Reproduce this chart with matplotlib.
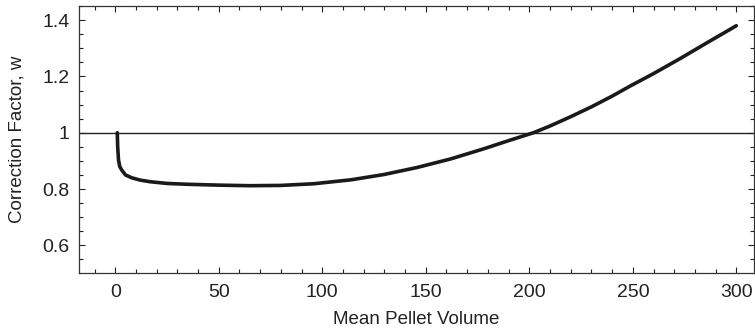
import matplotlib
matplotlib.use("Agg")
import matplotlib.pyplot as plt
from matplotlib.ticker import MultipleLocator

plt.rcParams['font.family'] = ['Liberation Sans', 'DejaVu Sans']

volume = [1, 1.2, 1.6, 2.2, 3.2, 5, 8, 12, 17, 25, 35, 50, 65, 80, 96, 114,
          130, 146, 162, 178, 190, 202, 210, 220, 230, 240, 249, 260, 273,
          285, 300]
factor = [1.0, 0.95, 0.903, 0.88, 0.867, 0.85, 0.84, 0.832, 0.826, 0.82, 0.817,
          0.814, 0.812, 0.813, 0.819, 0.833, 0.852, 0.877, 0.907, 0.943,
          0.972, 1.0, 1.024, 1.057, 1.092, 1.13, 1.167, 1.21, 1.264, 1.316,
          1.38]
ref_level = 1.0
xticks = [0, 50, 100, 150, 200, 250, 300]
yticks = [0.6, 0.8, 1.0, 1.2, 1.4]
ytick_labels = ['0.6', '0.8', '1', '1.2', '1.4']

fig = plt.figure(figsize=(7.55, 3.34), dpi=100)
ax = fig.add_axes([0.1046, 0.1826, 0.894, 0.7994])

ax.axhline(ref_level, color='#222222', lw=1.0, zorder=1)
ax.plot(volume, factor, color='#1a1a1a', lw=2.6, solid_capstyle='round', zorder=2)

ax.set_xlim(-17.5, 308.5)
ax.set_ylim(0.502, 1.45)
ax.set_xticks(xticks)
ax.set_yticks(yticks)
ax.set_yticklabels(ytick_labels)
ax.xaxis.set_minor_locator(MultipleLocator(10))
ax.yaxis.set_minor_locator(MultipleLocator(0.05))

ax.tick_params(which='both', direction='in', top=True, right=True,
               colors='#222222', labelsize=14)
ax.tick_params(which='major', length=4.5, width=0.8)
ax.tick_params(which='minor', length=3, width=0.8)
ax.tick_params(axis='x', pad=8)
ax.tick_params(axis='y', pad=7)
for s in ax.spines.values():
    s.set_color('#333333')
    s.set_linewidth(0.9)

ax.set_xlabel('Mean Pellet Volume', fontsize=13.5, color='#222222', labelpad=7)
ax.set_ylabel('Correction Factor, w', fontsize=13.5, color='#222222', labelpad=12)

fig.savefig('out.png', dpi=100)
